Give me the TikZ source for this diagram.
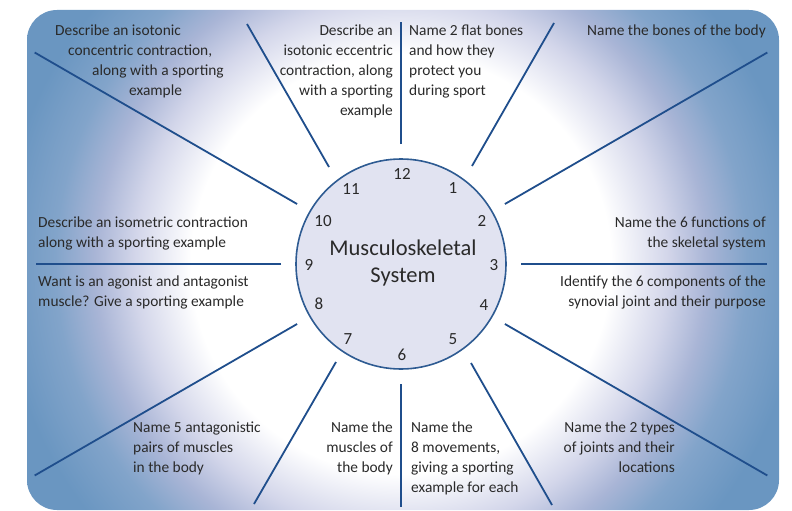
\documentclass[tikz,border=0pt]{standalone}
\usepackage{fontspec}
\setmainfont{Carlito}
\usetikzlibrary{calc}
\definecolor{bglav}{HTML}{D3D6EA}
\definecolor{bgmid}{HTML}{A9B5D6}
\definecolor{bgblue}{HTML}{82A4CA}
\definecolor{bgedge}{HTML}{6A96C1}
\definecolor{spokeblue}{HTML}{1F4E8C}
\definecolor{faceline}{HTML}{2E5B92}
\definecolor{facefill}{HTML}{E1E3F1}
\definecolor{inkgray}{HTML}{2A2A2A}
\pgfdeclareradialshading{bgshade}{\pgfpoint{0bp}{0bp}}{color(0bp)=(white); color(10.5bp)=(white); color(13.3bp)=(bglav); color(15.3bp)=(bgmid); color(17.3bp)=(bgblue); color(20bp)=(bgedge); color(50bp)=(bgedge)}
\tikzset{
    spoke/.style = {draw=spokeblue, line width=1.8pt},
    clockface/.style = {circle, draw=faceline, fill=facefill, line width=1.6pt,
                        minimum size=210pt, inner sep=0pt},
    hour/.style = {font=\fontsize{17}{17}\selectfont, inner sep=0pt},
    prompt/.style = {font=\fontsize{15.4}{20}\selectfont, inner sep=0pt}
}

\begin{document}
\begin{tikzpicture}[x=1pt,y=-1pt]
			\tikzstyle{every node}=[text=inkgray]
			\useasboundingbox (0,0) rectangle (792,511);
			\begin{scope}
				\clip[rounded corners=30] (27,10) rectangle (779,510);
				\shade[shading=bgshade] (401,264) circle (500);
			\end{scope}
			\node (clock) [clockface] at (401,264) {};
			\draw [spoke] ($(clock.center)+(0:120)$) -- ($(clock.center)+(0:366)$);
			\draw [spoke] ($(clock.center)+(30:120)$) -- ($(clock.center)+(30:423)$);
			\draw [spoke] ($(clock.center)+(70,99)$) -- ($(clock.center)+(151,241)$);
			\draw [spoke] ($(clock.center)+(90:120)$) -- ($(clock.center)+(90:243)$);
			\draw [spoke] ($(clock.center)+(-65,98)$) -- ($(clock.center)+(-147,240)$);
			\draw [spoke] ($(clock.center)+(150:120)$) -- ($(clock.center)+(150:423)$);
			\draw [spoke] ($(clock.center)+(180:120)$) -- ($(clock.center)+(180:365)$);
			\draw [spoke] ($(clock.center)+(210:120)$) -- ($(clock.center)+(210:423)$);
			\draw [spoke] ($(clock.center)+(-72,-97)$) -- ($(clock.center)+(-154,-240)$);
			\draw [spoke] ($(clock.center)+(270:120)$) -- ($(clock.center)+(270:242)$);
			\draw [spoke] ($(clock.center)+(71,-98)$) -- ($(clock.center)+(153,-241)$);
			\draw [spoke] ($(clock.center)+(330:120)$) -- ($(clock.center)+(330:423)$);
			\node (title) [align=center, font=\fontsize{22.5}{27}\selectfont] at (403,263) {Musculoskeletal\\System};
			\node (h12) [hour] at (402,174) {12};
			\node (h1) [hour] at (453,188) {1};
			\node (h2) [hour] at (482,221) {2};
			\node (h3) [hour] at (494,265) {3};
			\node (h4) [hour] at (484,305) {4};
			\node (h5) [hour] at (453,339) {5};
			\node (h6) [hour] at (402,355) {6};
			\node (h7) [hour] at (348,339) {7};
			\node (h8) [hour] at (319,304) {8};
			\node (h9) [hour] at (309,265) {9};
			\node (h10) [hour] at (323,221) {10};
			\node (h11) [hour] at (351,189) {11};
			\node (concentric) [prompt, align=left, anchor=north west] at (55,25) {Describe an isotonic\\
				\hspace*{13pt}concentric contraction,\\
				\hspace*{37pt}along with a sporting\\
				\hspace*{74pt}example};
			\node (eccentric) [prompt, align=right, anchor=north east] at (393,25) {Describe an\\
				isotonic eccentric\\ contraction, along\\ with a sporting\\ example};
			\node (flat) [prompt, align=left, anchor=north west] at (409,25) {Name 2 flat bones\\
				and how they\\ protect you\\ during sport};
			\node (bones) [prompt, anchor=north east] at (766,25) {Name the bones of the body};
			\node (functions) [prompt, align=right, anchor=north east] at (766,217) {Name the 6 functions of\\
				the skeletal system};
			\node (synovial) [prompt, align=right, anchor=north east] at (766,276) {Identify the 6 components of the\\
				synovial joint and their purpose};
			\node (isometric) [prompt, align=left, anchor=north west] at (38,217) {Describe an isometric contraction\\
				along with a sporting example};
			\node (agonist) [prompt, align=left, anchor=north west] at (38,276) {Want is an agonist and antagonist\\
				muscle? Give a sporting example};
			\node (pairs) [prompt, align=left, anchor=north west] at (133,422) {Name 5 antagonistic\\
				pairs of muscles\\ in the body};
			\node (muscles) [prompt, align=right, anchor=north east] at (393,422) {Name the\\
				muscles of\\ the body};
			\node (movements) [prompt, align=left, anchor=north west] at (411,422) {Name the\\
				8 movements,\\ giving a sporting\\ example for each};
			\node (joints) [prompt, align=right, anchor=north east] at (675,422) {Name the 2 types\\
				of joints and their\\ locations};
		\end{tikzpicture}
\end{document}
